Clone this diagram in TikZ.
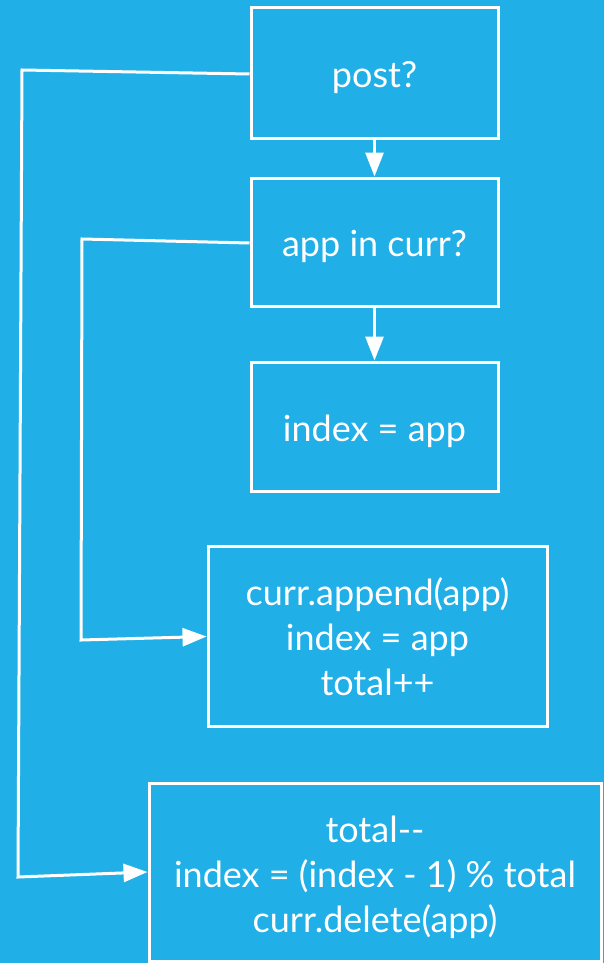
\documentclass[tikz,border=0pt]{standalone}
\usepackage{fontspec}
\setmainfont[Ligatures=NoCommon]{Lato}
\usetikzlibrary{arrows.meta}
\definecolor{bg}{RGB}{32,175,230}
\begin{document}
\begin{tikzpicture}[x=1pt,y=1pt,
  box/.style={draw=white,line width=3pt,text=white,align=center,inner sep=0pt,
    font=\fontsize{36}{45}\selectfont},
  lowtext/.style={text depth=0pt,execute at begin node={\rule{0pt}{34pt}}},
  conn/.style={draw=white,line width=3pt,line join=miter},
  arr/.style={-{Triangle[length=24pt,width=18pt]}}]
\fill[bg] (0,0) rectangle (604,-963);
\useasboundingbox (0,0) rectangle (604,-963);
\node[box,minimum width=247pt,minimum height=130pt] (b1) at (374.5,-73) {\rule{0pt}{36pt}post?};
\node[box,minimum width=247pt,minimum height=128pt] (b2) at (374.5,-242) {\rule{0pt}{36pt}app in curr?};
\node[box,minimum width=247pt,minimum height=129pt] (b3) at (374.5,-426.5) {\rule{0pt}{36pt}index = app};
\node[box,minimum width=339pt,minimum height=180pt] (b4) at (377.5,-636.5) {curr.append(app)\\index = app\\total++};
\node[box,minimum width=452pt,minimum height=178pt] (b5) at (375,-872) {\rule{0pt}{38pt}total-{}-\\index = (index - 1) \% total\\curr.delete(app)};
\coordinate (c1a) at (22,-70);
\coordinate (c1b) at (18,-877);
\coordinate (c2a) at (82,-239);
\coordinate (c2b) at (81,-640);
\draw[conn,arr] (b1) -- (b2);
\draw[conn,arr] (b2) -- (b3);
\draw[conn,arr] ([yshift=-1pt]b1.west) -- (c1a) -- (c1b) -- (b5.west);
\draw[conn,arr] ([yshift=-1pt]b2.west) -- (c2a) -- (c2b) -- (b4.west);
\end{tikzpicture}
\end{document}
